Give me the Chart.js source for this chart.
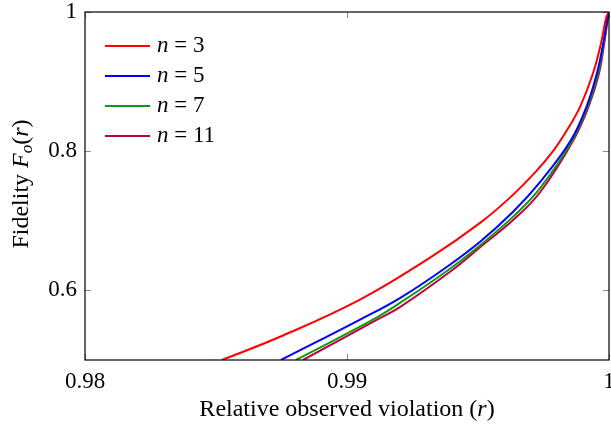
<!DOCTYPE html>
<html>
<head>
<meta charset="utf-8">
<script src="https://cdn.jsdelivr.net/npm/chart.js@4.4.1/dist/chart.umd.min.js"></script>
<style>
  html, body { margin: 0; padding: 0; background: #fff; }
  #wrap { width: 611px; height: 428px; }
</style>
</head>
<body>
<div id="wrap"><canvas id="fidChart" width="611" height="428"></canvas></div>
<script>
// valores: violacion relativa r y fidelidad F_o(r)
const rN3 = [0.98523, 0.98742, 0.99046, 0.99317, 0.99508, 0.99624, 0.99719, 0.99790, 0.99844, 0.99890, 0.99939, 0.99970, 0.99990, 1];
const fN3 = [0.500, 0.533, 0.586, 0.647, 0.697, 0.734, 0.770, 0.802, 0.833, 0.864, 0.912, 0.956, 0.993, 1];

const rN5 = [0.98748, 0.99050, 0.99202, 0.99363, 0.99508, 0.99634, 0.99740, 0.99855, 0.99916, 0.99954, 0.99977, 0.99992, 1];
const fN5 = [0.500, 0.558, 0.589, 0.629, 0.670, 0.713, 0.757, 0.816, 0.866, 0.912, 0.953, 0.986, 1];

const rN7 = [0.98805, 0.99099, 0.99202, 0.99385, 0.99508, 0.99634, 0.99737, 0.99859, 0.99920, 0.99958, 0.99979, 0.99992, 1];
const fN7 = [0.500, 0.558, 0.582, 0.629, 0.665, 0.706, 0.747, 0.815, 0.866, 0.912, 0.953, 0.986, 1];

const rN11 = [0.98832, 0.99115, 0.99202, 0.99401, 0.99508, 0.99634, 0.99737, 0.99863, 0.99924, 0.99962, 0.99981, 0.99994, 1];
const fN11 = [0.500, 0.558, 0.576, 0.629, 0.662, 0.701, 0.741, 0.815, 0.866, 0.912, 0.953, 0.986, 1];

const seriesNames = ['3', '5', '7', '11'];
const seriesColors = ['#ff0000', '#0000ff', '#109a10', '#bf0040'];
const xTicks = [0.98, 0.99, 1];
const yTicks = [0.6, 0.8, 1];

const FONT = '"Liberation Serif", "DejaVu Serif", serif';

function toPoints(rs, fs) {
    return rs.map((r, i) => ({ x: r, y: fs[i] }));
}

const allR = [rN3, rN5, rN7, rN11];
const allF = [fN3, fN5, fN7, fN11];

const datasets = seriesNames.map((n, i) => ({
    label: 'n = ' + n,
    data: toPoints(allR[i], allF[i]),
    borderColor: seriesColors[i],
    backgroundColor: seriesColors[i],
    borderWidth: 2,
    pointRadius: 0,
    fill: false,
    tension: 0.4
}));

// marco, marcas hacia dentro, leyenda y titulos de ejes
const decoPlugin = {
    id: 'deco',
    afterDraw(chart) {
        const ctx = chart.ctx;
        const a = chart.chartArea;
        const xs = chart.scales.x, ys = chart.scales.y;
        ctx.save();

        // marcas
        ctx.strokeStyle = '#8c8c8c';
        ctx.lineWidth = 1;
        ctx.beginPath();
        xTicks.forEach(v => {
            const px = Math.round(xs.getPixelForValue(v)) + 0.5;
            ctx.moveTo(px, a.bottom); ctx.lineTo(px, a.bottom - 6);
            ctx.moveTo(px, a.top); ctx.lineTo(px, a.top + 6);
        });
        yTicks.forEach(v => {
            const py = Math.round(ys.getPixelForValue(v)) + 0.5;
            ctx.moveTo(a.left, py); ctx.lineTo(a.left + 6, py);
            ctx.moveTo(a.right, py); ctx.lineTo(a.right - 6, py);
        });
        ctx.stroke();

        // marco
        ctx.strokeStyle = '#000';
        ctx.lineWidth = 1.2;
        ctx.strokeRect(a.left, a.top, a.right - a.left, a.bottom - a.top);

        // leyenda
        ctx.textBaseline = 'middle';
        seriesNames.forEach((n, i) => {
            const y = 46 + i * 30;
            ctx.strokeStyle = seriesColors[i];
            ctx.lineWidth = 2;
            ctx.beginPath();
            ctx.moveTo(105, y); ctx.lineTo(150, y);
            ctx.stroke();
            ctx.fillStyle = '#000';
            ctx.font = 'italic 23px ' + FONT;
            ctx.textAlign = 'left';
            ctx.fillText('n', 157, y);
            const w = ctx.measureText('n').width;
            ctx.font = '23px ' + FONT;
            ctx.fillText(' = ' + n, 157 + w, y);
        });

        // titulo eje x
        const xParts = [['Relative observed violation (', ''], ['r', 'italic '], [')', '']];
        drawParts(ctx, xParts, (a.left + a.right) / 2, 410);

        // titulo eje y
        ctx.translate(22, (a.top + a.bottom) / 2 - 2);
        ctx.rotate(-Math.PI / 2);
        const yParts = [['Fidelity ', ''], ['F', 'italic '], ['o', 'italic ', true], ['(', ''], ['r', 'italic '], [')', '']];
        drawParts(ctx, yParts, 0, 0);
        ctx.restore();
    }
};

function drawParts(ctx, parts, cx, cy) {
    let total = 0;
    const widths = parts.map(p => {
        ctx.font = p[1] + (p[2] ? '17px ' : '24px ') + FONT;
        const w = ctx.measureText(p[0]).width;
        total += w;
        return w;
    });
    let x = cx - total / 2;
    ctx.textAlign = 'left';
    ctx.textBaseline = 'middle';
    ctx.fillStyle = '#000';
    parts.forEach((p, i) => {
        ctx.font = p[1] + (p[2] ? '17px ' : '24px ') + FONT;
        ctx.fillText(p[0], x, cy + (p[2] ? 6 : 0));
        x += widths[i];
    });
}

document.addEventListener('DOMContentLoaded', function () {
    const el = document.getElementById('fidChart');
    new Chart(el.getContext('2d'), {
        type: 'line',
        data: { datasets: datasets },
        options: {
            responsive: false,
            animation: false,
            devicePixelRatio: 1,
            layout: { padding: { top: 12, right: 2, left: 0, bottom: 0 } },
            plugins: { legend: { display: false }, tooltip: { enabled: false } },
            scales: {
                x: {
                    type: 'linear',
                    min: 0.98, max: 1,
                    grid: { display: false, drawTicks: false },
                    border: { display: false },
                    afterBuildTicks: s => { s.ticks = xTicks.map(v => ({ value: v })); },
                    afterFit: s => { s.height = 68; s.paddingLeft = 0; s.paddingRight = 0; },
                    ticks: {
                        padding: 8,
                        maxRotation: 0,
                        color: '#000',
                        font: { family: FONT, size: 23 },
                        callback: v => String(v)
                    }
                },
                y: {
                    min: 0.5, max: 1,
                    grid: { display: false, drawTicks: false },
                    border: { display: false },
                    afterBuildTicks: s => { s.ticks = yTicks.map(v => ({ value: v })); },
                    afterFit: s => { s.width = 85; s.paddingTop = 0; s.paddingBottom = 0; },
                    ticks: {
                        padding: 8,
                        color: '#000',
                        font: { family: FONT, size: 23 },
                        callback: v => String(v)
                    }
                }
            }
        },
        plugins: [decoPlugin]
    });
});
</script>
</body>
</html>
